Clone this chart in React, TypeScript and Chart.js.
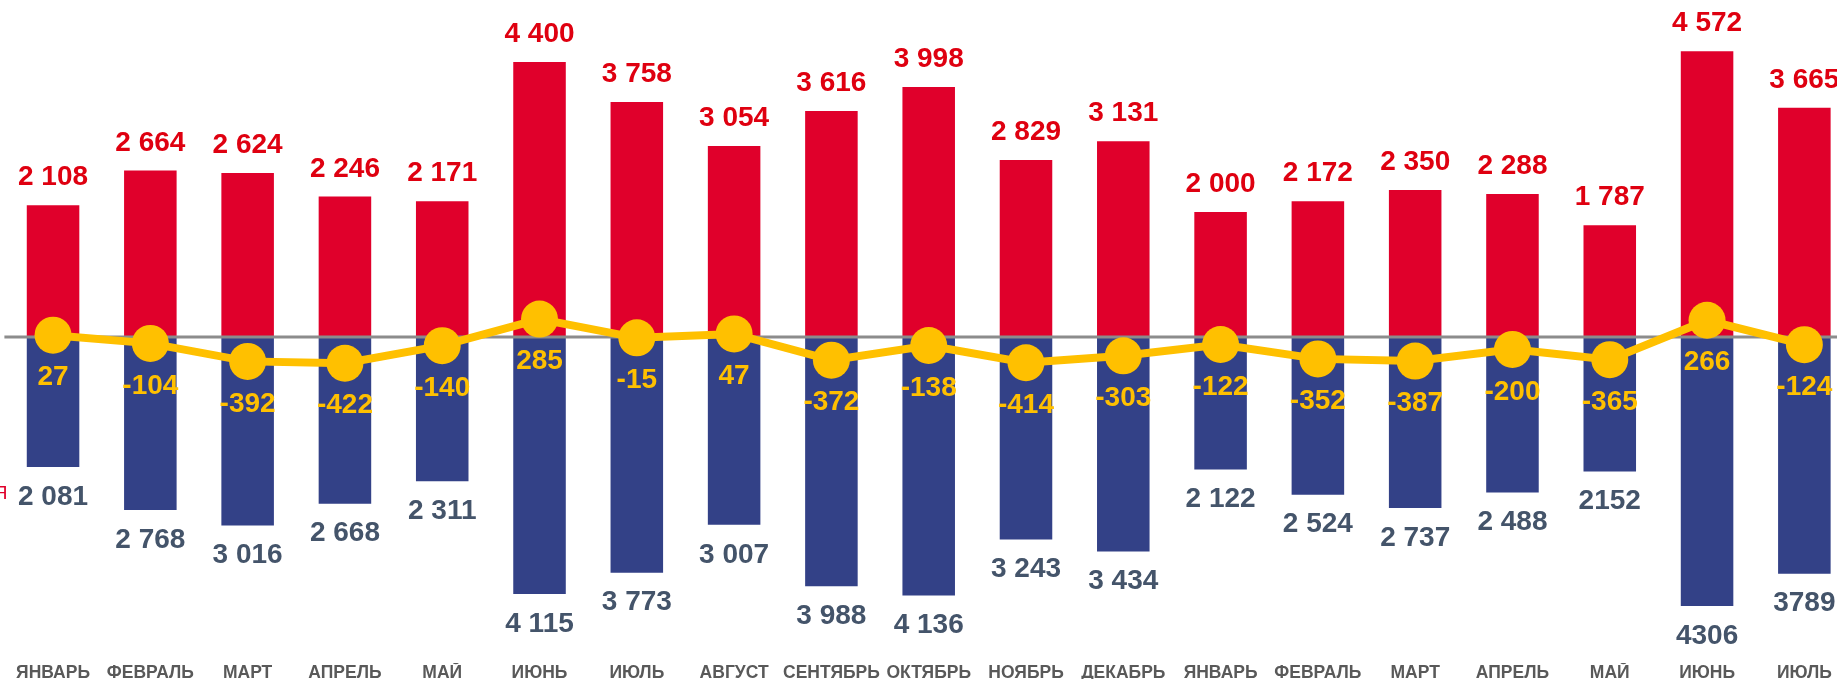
import React, { useEffect, useRef } from 'react';
import { Chart, registerables } from 'chart.js';

Chart.register(...registerables);

const months = ['ЯНВАРЬ', 'ФЕВРАЛЬ', 'МАРТ', 'АПРЕЛЬ', 'МАЙ', 'ИЮНЬ', 'ИЮЛЬ', 'АВГУСТ', 'СЕНТЯБРЬ', 'ОКТЯБРЬ', 'НОЯБРЬ', 'ДЕКАБРЬ', 'ЯНВАРЬ', 'ФЕВРАЛЬ', 'МАРТ', 'АПРЕЛЬ', 'МАЙ', 'ИЮНЬ', 'ИЮЛЬ'];
const exportValues = [2108, 2664, 2624, 2246, 2171, 4400, 3758, 3054, 3616, 3998, 2829, 3131, 2000, 2172, 2350, 2288, 1787, 4572, 3665];
const importValues = [2081, 2768, 3016, 2668, 2311, 4115, 3773, 3007, 3988, 4136, 3243, 3434, 2122, 2524, 2737, 2488, 2152, 4306, 3789];
const balanceValues = [27, -104, -392, -422, -140, 285, -15, 47, -372, -138, -414, -303, -122, -352, -387, -200, -365, 266, -124];
// import labels that are printed without a thousands space in the original
const importUngrouped = [16, 17, 18];
// fragment of a cut-off caption at the left edge
const cutCaption = 'Я';

const RED = '#E0002B';
const RED_TEXT = '#DF0010';
const BLUE = '#334187';
const BLUE_TEXT = '#44546A';
const YELLOW = '#FFC000';
const NUM_FONT = "bold 28px 'Liberation Sans', Arial, sans-serif";

const grouped = (v: number) => String(v).replace(/\B(?=(\d{3})+(?!\d))/g, ' ');

const labelsPlugin = {
  id: 'valueLabels',
  beforeDatasetDraw(chart: any, args: any) {
    if (args.index !== 2) return;
    const { ctx, chartArea, scales } = chart;
    const y0 = scales.y.getPixelForValue(0);
    ctx.save();
    ctx.strokeStyle = '#8C8C8C';
    ctx.lineWidth = 3;
    ctx.beginPath();
    ctx.moveTo(chartArea.left, y0);
    ctx.lineTo(chart.width, y0);
    ctx.stroke();
    ctx.restore();
  },
  afterDatasetsDraw(chart: any) {
    const { ctx } = chart;
    const mExp = chart.getDatasetMeta(0);
    const mImp = chart.getDatasetMeta(1);
    const mBal = chart.getDatasetMeta(2);
    ctx.save();
    ctx.font = NUM_FONT;
    ctx.textAlign = 'center';
    ctx.textBaseline = 'middle';
    exportValues.forEach((v, i) => {
      const el = mExp.data[i];
      ctx.fillStyle = RED_TEXT;
      ctx.fillText(grouped(v), el.x, el.y - 27.5);
    });
    importValues.forEach((v, i) => {
      const el = mImp.data[i];
      ctx.fillStyle = BLUE_TEXT;
      const txt = importUngrouped.includes(i) ? String(v) : grouped(v);
      ctx.fillText(txt, el.x, el.y + 30);
    });
    balanceValues.forEach((v, i) => {
      const el = mBal.data[i];
      ctx.fillStyle = YELLOW;
      ctx.fillText(String(v), el.x, el.y + 42.5);
    });
    ctx.font = "19px 'Liberation Sans', Arial, sans-serif";
    ctx.fillStyle = RED;
    ctx.textAlign = 'right';
    ctx.textBaseline = 'alphabetic';
    ctx.fillText(cutCaption, 7.5, 499);
    ctx.restore();
  },
};

export default function App() {
  const ref = useRef<HTMLCanvasElement | null>(null);

  useEffect(() => {
    if (!ref.current) return;
    const chart = new Chart(ref.current, {
      type: 'bar',
      data: {
        labels: months,
        datasets: [
          {
            type: 'bar',
            label: 'Экспорт',
            data: exportValues,
            backgroundColor: RED,
            barPercentage: 0.54,
            categoryPercentage: 1,
            grouped: false,
            order: 2,
          },
          {
            type: 'bar',
            label: 'Импорт',
            data: importValues.map((v) => -v),
            backgroundColor: BLUE,
            barPercentage: 0.54,
            categoryPercentage: 1,
            grouped: false,
            order: 2,
          },
          {
            type: 'line',
            label: 'Сальдо',
            data: balanceValues,
            borderColor: YELLOW,
            backgroundColor: YELLOW,
            borderWidth: 8,
            pointRadius: 18.5,
            pointHoverRadius: 18.5,
            pointBorderWidth: 0,
            pointBackgroundColor: YELLOW,
            tension: 0,
            clip: false,
            order: 1,
          },
        ],
      } as any,
      options: {
        animation: false,
        responsive: false,
        devicePixelRatio: 1,
        layout: { autoPadding: false, padding: { left: 4.4, right: 7, top: 0, bottom: 0 } },
        plugins: { legend: { display: false }, tooltip: { enabled: false } },
        scales: {
          x: {
            offset: true,
            grid: { display: false, drawTicks: false },
            border: { display: false },
            ticks: {
              autoSkip: false,
              maxRotation: 0,
              minRotation: 0,
              padding: 0,
              color: '#595959',
              font: { family: "'Liberation Sans', Arial, sans-serif", size: 17.5, weight: 'bold' },
            },
            afterFit: (scale: any) => {
              scale.height = 37;
            },
          },
          y: {
            display: false,
            min: -5218,
            max: 5390,
          },
        },
      } as any,
      plugins: [labelsPlugin],
    });
    return () => chart.destroy();
  }, []);

  return (
    <div
      style={{
        position: 'fixed',
        left: 0,
        top: 0,
        width: '1837px',
        height: '679px',
        overflow: 'hidden',
        background: '#fff',
      }}
    >
      <canvas ref={ref} width={1860} height={700} style={{ display: 'block', width: '1860px', height: '700px' }} />
    </div>
  );
}
